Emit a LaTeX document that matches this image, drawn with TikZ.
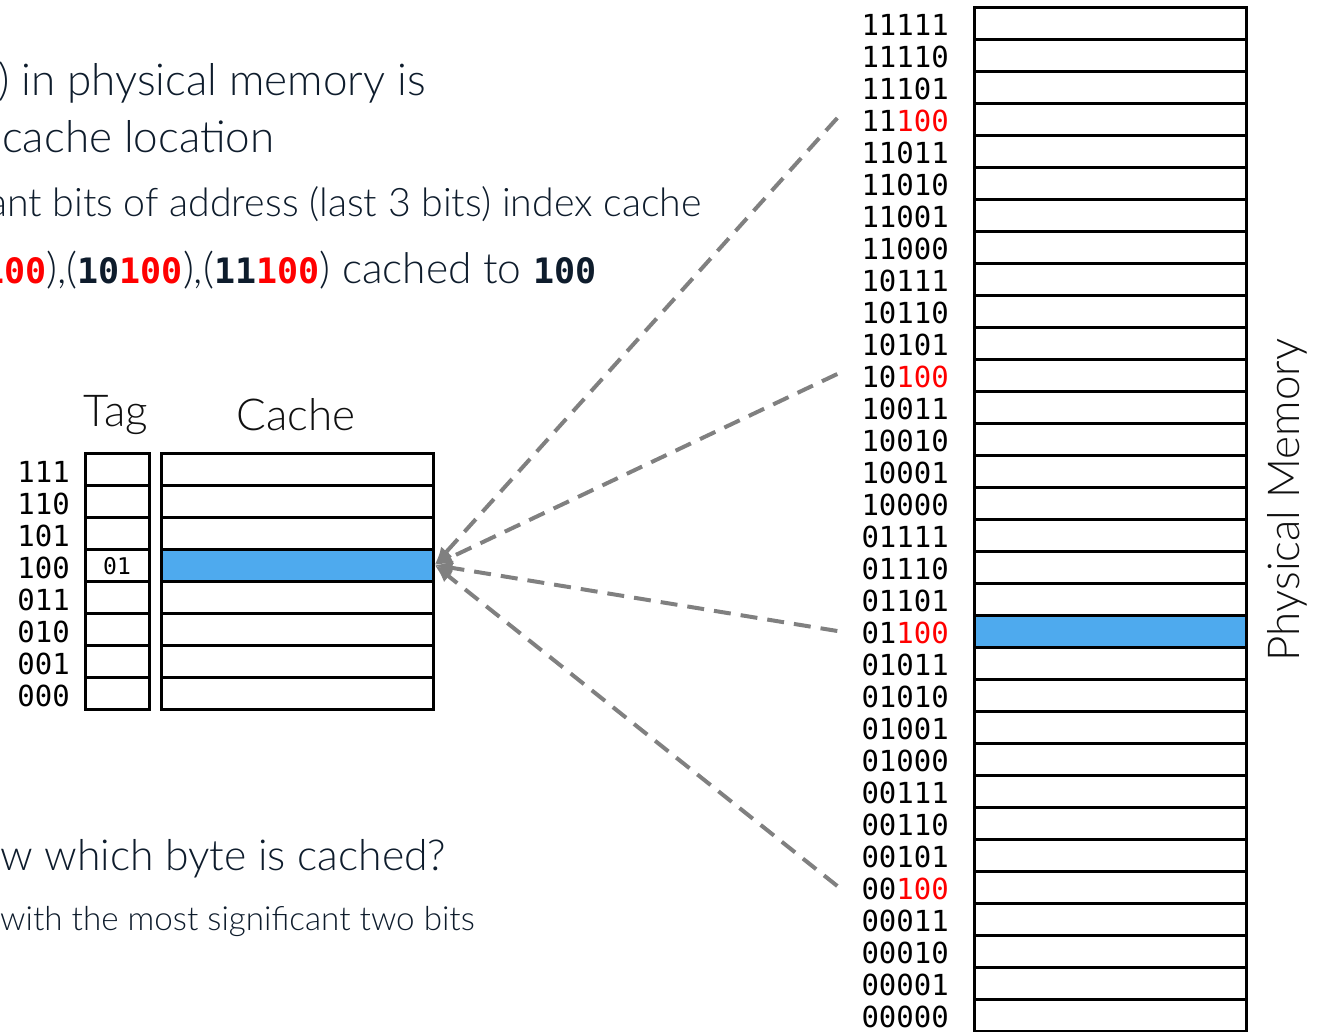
\documentclass[tikz,border=0pt]{standalone}
\usepackage{fontspec}
\IfFontExistsTF{Lato Light}{\setmainfont{Lato Light}}{\setmainfont{Lato}}
\newfontfamily\monof{DejaVu Sans Mono}
\usetikzlibrary{arrows.meta}
\definecolor{navy}{HTML}{0E1C2C}
\definecolor{hl}{HTML}{4EAAEE}
\definecolor{dgray}{HTML}{808080}
\definecolor{ink}{HTML}{101010}
\newcommand{\bm}{\monof\bfseries\fontsize{35}{35}\selectfont}
\begin{document}
\begin{tikzpicture}[x=1pt,y=-1pt,
  cellbox/.style={draw=black,line width=3pt,minimum height=32pt,inner sep=0pt},
  widecell/.style={cellbox,minimum width=272pt},
  tagcell/.style={cellbox,minimum width=64pt},
  addr/.style={font=\monof\fontsize{29}{29}\selectfont,text=black,anchor=east,inner xsep=8pt,inner ysep=0pt},
  conn/.style={draw=dgray,line width=4pt,dash pattern=on 17pt off 10pt,
    -{Latex[length=18pt,width=15pt]}},
  bigtext/.style={font=\fontsize{44}{44}\selectfont,text=navy,inner sep=0pt,anchor=base west},
  midtext/.style={font=\fontsize{39.3}{40}\selectfont,text=navy,inner sep=0pt,anchor=base west},
  title/.style={font=\fontsize{44}{44}\selectfont,text=ink,inner sep=0pt}]
\useasboundingbox (0,0) rectangle (1322,1031);
\clip (0,0) rectangle (1322,1031);

% top texts
\node[bigtext] (t1) at (-2,95) {) in physical memory is};
\node[bigtext] (t2) at (2,152) {cache location};
\node[midtext] (t3) at (-12,216) {ant bits of address (last 3 bits) index cache};
\node[midtext,font=\fontsize{42.5}{43}\selectfont] (t4) at (-17,283) {{\bm\textcolor{red}{100}}),({\bm 10\textcolor{red}{100}}),({\bm 11\textcolor{red}{100}}) cached to {\bm 100}};

% bottom texts
\node[bigtext,font=\fontsize{42.7}{43}\selectfont] (b1) at (0,870) {w which byte is cached?};
\node[bigtext,font=\fontsize{33.2}{34}\selectfont] (b2) at (0,930) {with the most significant two bits};

% cache
\node[title] (tagt) at (116,415) {Tag};
\node[title] (cachet) at (296,415) {Cache};
\foreach \lab [count=\k from 0] in {111,110,101,100,011,010,001,000}{
  \node[tagcell] (g\k) at (117,469+32*\k) {};
  \node[widecell] (c\k) at (297,469+32*\k) {};
  \node[addr] (cl\k) at (78,472+32*\k) {\lab};
}
\node[widecell,fill=hl] (c3) at (297,565) {};
\node[font=\monof\fontsize{23}{23}\selectfont,inner sep=0pt] (tag01) at (117,566) {01};

% physical memory
\foreach \lab [count=\i from 0] in {11111,11110,11101,{11\textcolor{red}{100}},11011,11010,11001,11000,
  10111,10110,10101,{10\textcolor{red}{100}},10011,10010,10001,10000,
  01111,01110,01101,{01\textcolor{red}{100}},01011,01010,01001,01000,
  00111,00110,00101,{00\textcolor{red}{100}},00011,00010,00001,00000}{
  \node[widecell] (m\i) at (1110,23+32*\i) {};
  \node[addr] (l\i) at (957,25+32*\i) {\lab};
}
\node[widecell,fill=hl] (m19) at (1110,631) {};
\node[title,rotate=90] (pm) at (1287,500) {Physical Memory};

% connectors
\draw[conn] ([xshift=-16pt,yshift=3pt]l3.west) -- (c3.east);
\draw[conn] ([xshift=-16pt,yshift=3pt]l11.west) -- (c3.east);
\draw[conn] ([xshift=-16pt,yshift=2pt]l19.west) -- (c3.east);
\draw[conn] ([xshift=-16pt,yshift=3pt]l27.west) -- (c3.east);
\end{tikzpicture}
\end{document}
